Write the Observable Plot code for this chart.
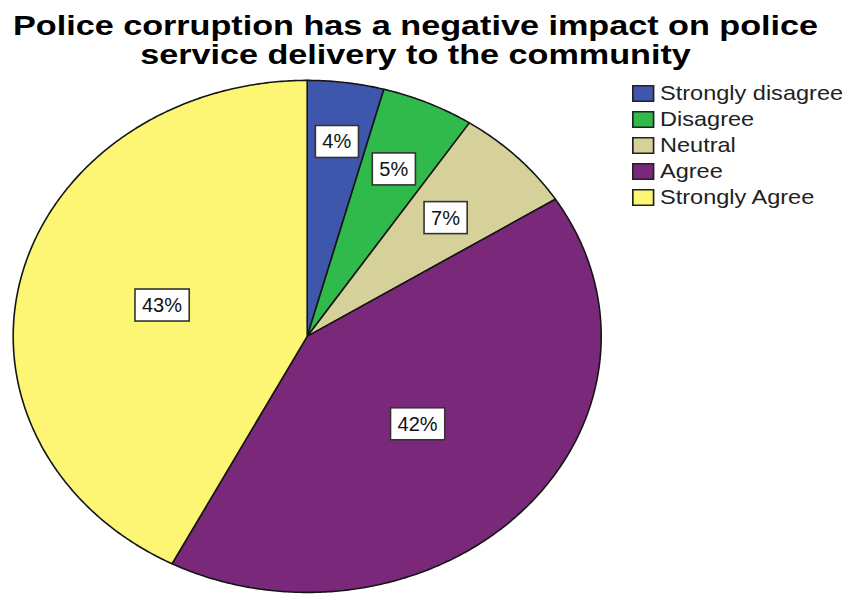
<!DOCTYPE html>
<html><head><meta charset="utf-8">
<script src="https://cdn.jsdelivr.net/npm/d3@7"></script>
<script src="https://cdn.jsdelivr.net/npm/@observablehq/plot@0.6"></script>
<style>
body{margin:0;background:#fff;font-family:"Liberation Sans",Arial,sans-serif;}
#wrap{position:relative;width:846px;height:595px;overflow:hidden;background:#fff;}
#title{width:831px;height:78px;box-sizing:border-box;padding-top:12px;font-weight:bold;font-size:28px;line-height:28.5px;text-align:center;white-space:nowrap;color:#000;transform-origin:415.5px 0;}
#title span{display:inline-block;}
#legend{position:absolute;left:632px;top:80px;transform-origin:0 0;color:#222;}
</style></head><body>
<div id="wrap">
<div id="title"><span id="t1">Police corruption has a negative impact on police</span><br><span id="t2">service delivery to the community</span></div>
<div id="chart"></div>
<div id="legend"></div>
</div>
<script>
const categories = ["Strongly disagree", "Disagree", "Neutral", "Agree", "Strongly Agree"];
const percents = [4.2, 5.1, 6.7, 41.6, 42.4];
const labels = ["4%", "5%", "7%", "42%", "43%"];
const colors = ["#3e57ad", "#30ba4b", "#d6d09a", "#7a297a", "#fcf674"];

// title: stretch slightly horizontally like the reference
const t1 = document.getElementById("t1");
const sx = 805 / t1.getBoundingClientRect().width;
document.getElementById("title").style.transform = `scaleX(${sx})`;

const arcs = d3.pie().sort(null).value(d => d)(percents);
const pts = arcs.flatMap((a, i) => {
  const n = Math.max(2, Math.ceil((a.endAngle - a.startAngle) / (Math.PI / 360)));
  const p = [{cat: categories[i], x: 0, y: 0}];
  for (let k = 0; k <= n; k++) {
    const t = a.startAngle + (a.endAngle - a.startAngle) * k / n;
    p.push({cat: categories[i], x: Math.sin(t), y: Math.cos(t)});
  }
  return p;
});
const labelData = arcs.map((a, i) => {
  const mid = (a.startAngle + a.endAngle) / 2;
  const f = Math.min(0.8, 0.48 + 1.2 / percents[i]);
  return {label: labels[i], x: f * Math.sin(mid), y: f * Math.cos(mid)};
});

const chart = Plot.plot({
  width: 846, height: 517,
  marginLeft: 12.7, marginRight: 245.3, marginTop: 1.9, marginBottom: 3.1,
  x: {domain: [-1, 1], axis: null},
  y: {domain: [-1, 1], axis: null},
  color: {domain: categories, range: colors},
  style: {fontFamily: "Liberation Sans, Arial, sans-serif", background: "white", overflow: "visible"},
  marks: [
    Plot.line(pts, {x: "x", y: "y", z: "cat", fill: "cat", stroke: "#151515", strokeWidth: 1.6, strokeLinejoin: "round", curve: "linear-closed"}),
    Plot.text(labelData, {x: "x", y: "y", text: "label", fontSize: 20, fill: "#111"})
  ]
});
document.getElementById("chart").appendChild(chart);

// white boxes behind slice labels
chart.querySelectorAll("text").forEach(t => {
  const b = t.getBBox();
  const r = document.createElementNS("http://www.w3.org/2000/svg", "rect");
  const px = 7, py = 5;
  r.setAttribute("x", b.x - px);
  r.setAttribute("y", b.y - py);
  r.setAttribute("width", b.width + 2 * px);
  r.setAttribute("height", b.height + 2 * py);
  r.setAttribute("fill", "white");
  r.setAttribute("stroke", "#333");
  r.setAttribute("stroke-width", "1.6");
  const tr = t.getAttribute("transform");
  if (tr) r.setAttribute("transform", tr);
  t.parentNode.insertBefore(r, t);
});

const legend = Plot.legend({
  color: {domain: categories, range: colors},
  legend: "swatches", columns: 1, swatchWidth: 20, swatchHeight: 17,
  style: {fontSize: "21px", fontFamily: "Liberation Sans, Arial, sans-serif", color: "#222", background: "transparent"}
});
const lg = document.getElementById("legend");
lg.appendChild(legend);
lg.style.transform = "scaleX(1.12)";
legend.style.margin = "0";
legend.querySelectorAll("svg").forEach(s => {
  const p = s.parentElement;
  p.style.height = "26px";
  p.style.display = "flex";
  p.style.alignItems = "center";
  p.style.margin = "0";
  p.style.padding = "0";
  p.style.whiteSpace = "nowrap";
  s.style.marginRight = "5px";
  s.style.flexShrink = "0";
  const rc = s.querySelector("rect");
  if (rc) {
    rc.setAttribute("x", 0.75); rc.setAttribute("y", 0.75);
    rc.setAttribute("width", 18.5); rc.setAttribute("height", 15.5);
    rc.setAttribute("stroke", "#222"); rc.setAttribute("stroke-width", "1.5");
  }
});
</script>
</body></html>
